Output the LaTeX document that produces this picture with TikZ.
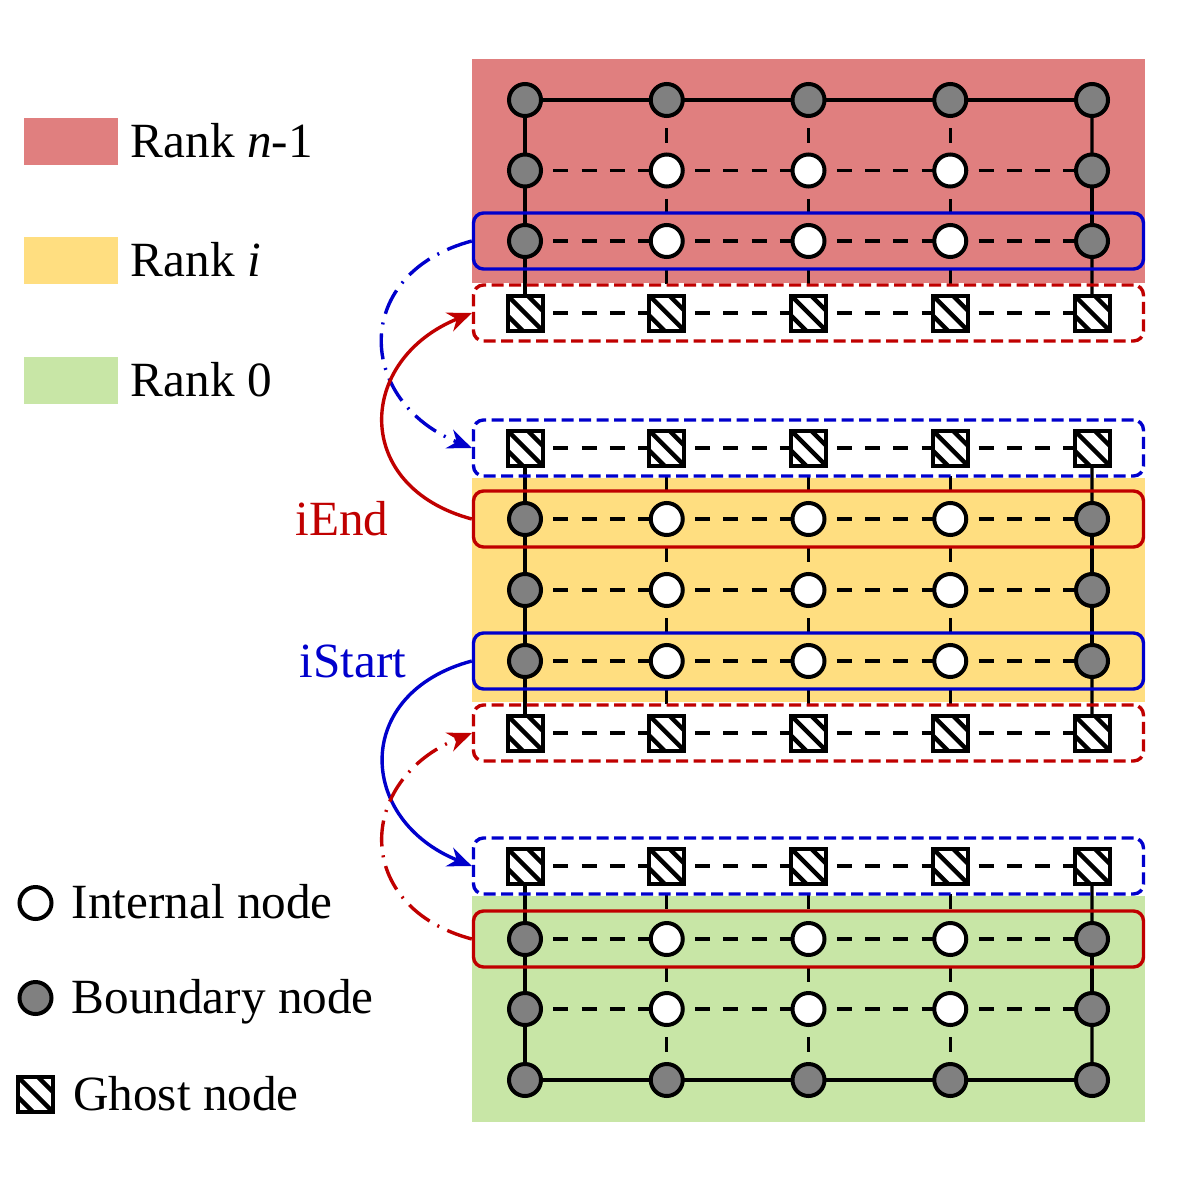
\documentclass[tikz,border=0pt]{standalone}
\usepackage{fontspec}
\setmainfont{Liberation Serif}
\usetikzlibrary{arrows.meta,fit,calc,positioning}
\definecolor{rankTopColor}{RGB}{224,127,127}
\definecolor{rankMidColor}{RGB}{255,222,128}
\definecolor{rankBotColor}{RGB}{200,230,166}
\definecolor{sendColor}{RGB}{0,0,204}
\definecolor{recvColor}{RGB}{192,0,0}
\definecolor{boundaryColor}{RGB}{128,128,128}
\tikzset{gridnode/.style={draw, line width=0.04cm, inner sep=0pt, minimum size=0.32cm}}
\tikzset{internal/.style={gridnode, circle, fill=white}}
\tikzset{boundary/.style={gridnode, circle, fill=boundaryColor}}
\tikzset{ghost/.style={gridnode, rectangle, minimum size=0.35cm, fill=white, path picture={
  \foreach \k in {-0.2,0,0.2} \draw[line width=0.045cm] ($(path picture bounding box.center)+(\k-0.3,0.3)$) -- ++(0.6,-0.6);}}}
\tikzset{solidlink/.style={line width=0.034cm}}
\tikzset{dashlink/.style={line width=0.034cm, dash pattern=on 0.15cm off 0.133cm}}
\tikzset{rowbox/.style={draw, line width=0.034cm, rounded corners=0.1cm, inner xsep=0.515cm, inner ysep=0.28cm}}
\tikzset{ghostbox/.style={rowbox, dash pattern=on 0.12cm off 0.055cm}}
\tikzset{exchange/.style={line width=0.034cm, -{Stealth[length=0.24cm, width=0.2cm]}}}
\tikzset{exchangedash/.style={dash pattern=on 0.26cm off 0.09cm on 0.02cm off 0.09cm}}
\tikzset{swatch/.style={rectangle, inner sep=0pt, minimum width=0.94cm, minimum height=0.47cm}}
\tikzset{legendtext/.style={inner sep=1pt, text height=0.7em, text depth=0pt, yshift=-0.035cm}}

\begin{document}
\begin{tikzpicture}[font=\fontsize{14pt}{17pt}\selectfont]
\pgfdeclarelayer{background}
\pgfdeclarelayer{edges}
\pgfsetlayers{background,edges,main}

\useasboundingbox (0,0) rectangle (11.81,-11.81);

% Grid nodes
\foreach \r/\y in {1/1.00,13/10.80}
  \foreach \c in {1,2,3,4,5} {
    \pgfmathsetmacro{\x}{5.25+1.4175*(\c-1)}
    \node (n\r-\c) [boundary] at (\x,-\y) {};
  }

\foreach \r/\y in {2/1.705,3/2.41,6/5.19,7/5.90,8/6.61,11/9.39,12/10.09} {
  \node (n\r-1) [boundary] at (5.25,-\y) {};
  \node (n\r-5) [boundary] at (10.92,-\y) {};
  \foreach \c in {2,3,4} {
    \pgfmathsetmacro{\x}{5.25+1.4175*(\c-1)}
    \node (n\r-\c) [internal] at (\x,-\y) {};
  }
}

\foreach \r/\y in {4/3.13,5/4.48,9/7.33,10/8.66}
  \foreach \c in {1,2,3,4,5} {
    \pgfmathsetmacro{\x}{5.25+1.4175*(\c-1)}
    \node (n\r-\c) [ghost] at (\x,-\y) {};
  }

% Rank areas
\begin{pgfonlayer}{background}
\fill[rankTopColor] (4.72,-0.59) rectangle (11.45,-2.83);
\fill[rankMidColor] (4.72,-4.78) rectangle (11.45,-7.02);
\fill[rankBotColor] (4.72,-8.96) rectangle (11.45,-11.22);
\end{pgfonlayer}

% Links
\begin{pgfonlayer}{edges}
\foreach \r in {1,13}
  \foreach \c [count=\d from 2] in {1,2,3,4}
    \draw[solidlink] (n\r-\c.center) -- (n\r-\d.center);
\foreach \r in {2,...,12}
  \foreach \c [count=\d from 2] in {1,2,3,4}
    \draw[dashlink] (n\r-\c.center) -- (n\r-\d.center);
\foreach \r/\s in {1/2,2/3,3/4,5/6,6/7,7/8,8/9,10/11,11/12,12/13} {
  \foreach \c in {1,5} \draw[solidlink] (n\r-\c.center) -- (n\s-\c.center);
  \foreach \c in {2,3,4} \draw[dashlink] (n\r-\c.center) -- (n\s-\c.center);
}

% Row boxes
\node (startTop) [rowbox, draw=sendColor, fit=(n3-1.center) (n3-5.center)] {};
\node (recvTop) [ghostbox, draw=recvColor, fit=(n4-1.center) (n4-5.center)] {};
\node (recvMidUp) [ghostbox, draw=sendColor, fit=(n5-1.center) (n5-5.center)] {};
\node (endMid) [rowbox, draw=recvColor, fit=(n6-1.center) (n6-5.center)] {};
\node (startMid) [rowbox, draw=sendColor, fit=(n8-1.center) (n8-5.center)] {};
\node (recvMidDown) [ghostbox, draw=recvColor, fit=(n9-1.center) (n9-5.center)] {};
\node (recvBot) [ghostbox, draw=sendColor, fit=(n10-1.center) (n10-5.center)] {};
\node (endBot) [rowbox, draw=recvColor, fit=(n11-1.center) (n11-5.center)] {};
\end{pgfonlayer}

% Exchanges
\draw[exchange, sendColor, exchangedash] (startTop.west) to[out=195, in=158, looseness=1.55] (recvMidUp.west);
\draw[exchange, recvColor] (endMid.west) to[out=165, in=202, looseness=1.55] (recvTop.west);
\draw[exchange, sendColor] (startMid.west) to[out=195, in=158, looseness=1.55] (recvBot.west);
\draw[exchange, recvColor, exchangedash] (endBot.west) to[out=165, in=202, looseness=1.55] (recvMidDown.west);

\node (iEndLabel) [left=0.71cm of endMid.west, text=recvColor] {iEnd};
\node (iStartLabel) [left=0.53cm of startMid.west, text=sendColor] {iStart};

% Legend
\node (legTop) [swatch, fill=rankTopColor] at (0.71,-1.415) {};
\node (legMid) [swatch, fill=rankMidColor, below=0.71cm of legTop] {};
\node (legBot) [swatch, fill=rankBotColor, below=0.71cm of legMid] {};
\node (legTopText) [legendtext, right=0.08cm of legTop] {Rank \textit{n}-1};
\node (legMidText) [legendtext, right=0.08cm of legMid] {Rank \textit{i}};
\node (legBotText) [legendtext, right=0.08cm of legBot] {Rank 0};

\node (legInternal) [internal] at (0.355,-9.03) {};
\node (legBoundary) [boundary] at (0.355,-9.98) {};
\node (legGhost) [ghost] at (0.355,-10.945) {};
\node (legInternalText) [legendtext, right=0.14cm of legInternal] {Internal node};
\node (legBoundaryText) [legendtext, right=0.14cm of legBoundary] {Boundary node};
\node (legGhostText) [legendtext, right=0.14cm of legGhost] {Ghost node};

\end{tikzpicture}
\end{document}
